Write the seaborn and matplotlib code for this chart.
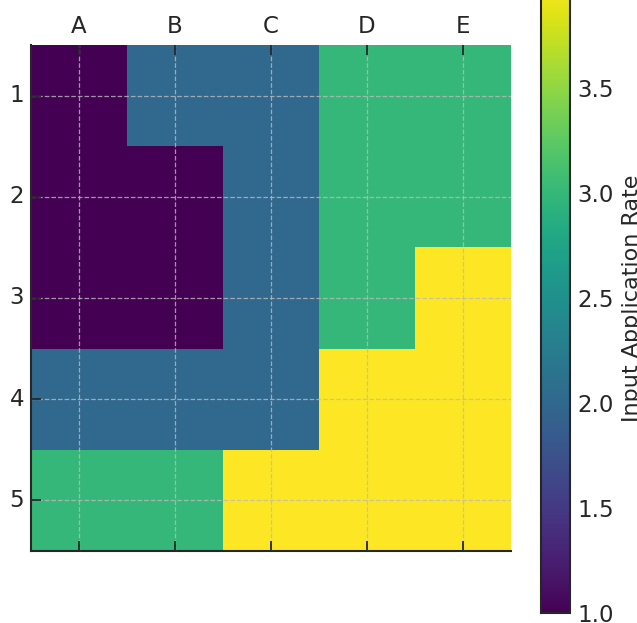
import numpy as np
import pandas as pd
import matplotlib
matplotlib.use("Agg")
import matplotlib.pyplot as plt
import seaborn as sns

# grid of input application rates (rows 1-5, columns A-E)
columns = ["A", "B", "C", "D", "E"]
rows = ["1", "2", "3", "4", "5"]
row_1 = [1, 2, 2, 3, 3]
row_2 = [1, 1, 2, 3, 3]
row_3 = [1, 1, 2, 3, 4]
row_4 = [2, 2, 2, 4, 4]
row_5 = [3, 3, 4, 4, 4]

df = pd.DataFrame([row_1, row_2, row_3, row_4, row_5], index=rows, columns=columns)

sns.set_theme(style="white")
plt.rcParams["font.family"] = ["DejaVu Sans"]

fig = plt.figure(figsize=(6.37, 6.23), dpi=100)
ax = fig.add_axes([31 / 637, 72 / 623, 480 / 637, 506 / 623])
cax = fig.add_axes([541 / 637, 10 / 623, 29 / 637, 630 / 623])

sns.heatmap(df, cmap="viridis", vmin=1, vmax=4, ax=ax, cbar_ax=cax,
            cbar_kws={"label": "Input Application Rate"})

text_color = "#262626"

# x labels on top, ticks pointing inward
ax.xaxis.tick_top()
ax.tick_params(axis="x", top=True, bottom=True, labeltop=True, labelbottom=False,
               direction="in", length=7, width=1.3, color=text_color,
               labelsize=16.5, labelcolor=text_color, pad=5)
ax.tick_params(axis="y", left=True, direction="in", length=7, width=1.3,
               color=text_color, labelsize=16.5, labelcolor=text_color, pad=5,
               rotation=0)
ax.set_xlabel("")
ax.set_ylabel("")

for side in ["top", "right"]:
    ax.spines[side].set_visible(False)
for side in ["left", "bottom"]:
    ax.spines[side].set_visible(True)
    ax.spines[side].set_color(text_color)
    ax.spines[side].set_linewidth(1.5)

ax.set_axisbelow(False)
ax.grid(True, linestyle="--", color="#bbbbbb", linewidth=0.9, alpha=0.8)

# colorbar styling
cax.tick_params(direction="in", length=7, width=1.3, color=text_color,
                labelsize=16.5, labelcolor=text_color, pad=5)
cax.set_yticks([1.0, 1.5, 2.0, 2.5, 3.0, 3.5])
cax.set_yticklabels(["1.0", "1.5", "2.0", "2.5", "3.0", "3.5"])
cax.set_ylabel("Input Application Rate", fontsize=16, color=text_color, labelpad=6)
cbar = ax.collections[0].colorbar
cbar.outline.set_visible(True)
cbar.outline.set_edgecolor(text_color)
cbar.outline.set_linewidth(1.5)

fig.savefig("out.png", dpi=100)
